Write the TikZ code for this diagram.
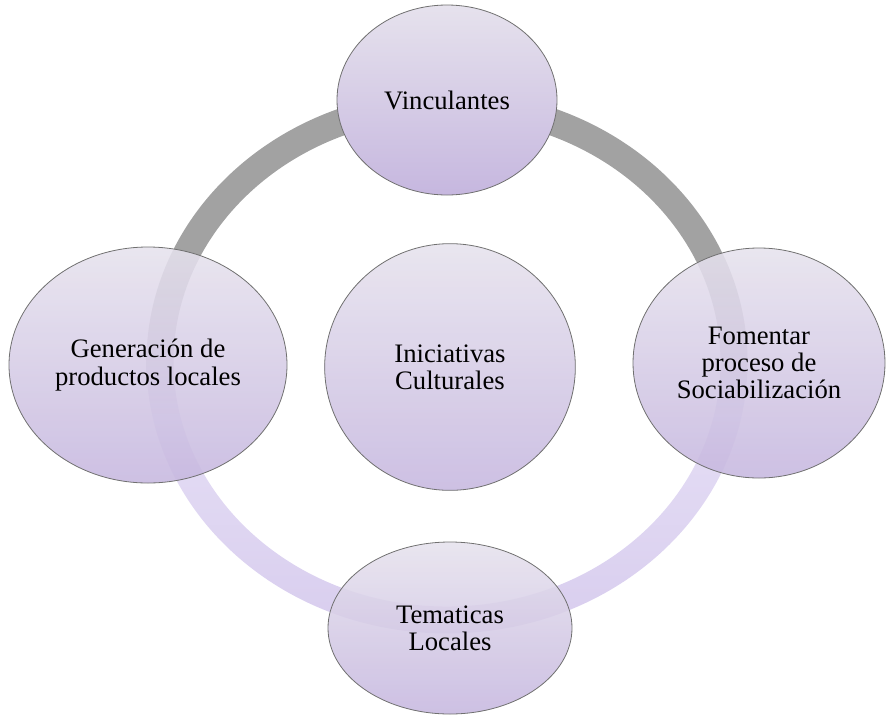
\documentclass[tikz,border=0pt]{standalone}
\usepackage{fontspec}
\setmainfont{Liberation Serif}
\usepackage{xcolor}
\usetikzlibrary{shapes.geometric}
\definecolor{ringgray}{HTML}{A2A2A2}
\definecolor{ringlight}{HTML}{E5DEF5}
\definecolor{ringlav}{HTML}{D8CDEE}
\definecolor{bubtop}{HTML}{E6E2ED}
\definecolor{bubbot}{HTML}{C6B7DF}
\definecolor{bubline}{HTML}{707070}
\pgfdeclareverticalshading{ringshade}{100bp}{color(0bp)=(ringlav); color(25bp)=(ringlav); color(45bp)=(ringlight); color(57bp)=(ringgray); color(100bp)=(ringgray)}
\tikzset{bubble/.style={ellipse, draw=bubline, line width=0.6pt, top color=bubtop, bottom color=bubbot, fill opacity=0.88, text opacity=1, align=center, inner sep=0pt, font=\fontsize{20}{20.5}\selectfont}}

\begin{document}
\begin{tikzpicture}[x=0.75pt,y=-0.75pt]
    \useasboundingbox (0,0) rectangle (886,715);
    \path[shading=ringshade, even odd rule] (447,362) ellipse [x radius=225.4pt, y radius=203.6pt] (447,362) ellipse [x radius=205.1pt, y radius=183.4pt];

    \node[bubble, fill opacity=1, minimum width=165pt, minimum height=142.5pt] (vinc) at (447,100) {Vinculantes};
    \node[bubble, minimum width=208.5pt, minimum height=177pt] (gener) at (148,365) {Generación de\\productos locales};
    \node[bubble, minimum width=188pt, minimum height=185pt] (inic) at (450,367) {Iniciativas\\Culturales};
    \node[bubble, minimum width=189pt, minimum height=172.5pt] (fomen) at (759,363) {Fomentar\\proceso de\\Sociabilización};
    \node[bubble, minimum width=183pt, minimum height=129pt] (temat) at (450,628) {Tematicas\\Locales};
\end{tikzpicture}
\end{document}
